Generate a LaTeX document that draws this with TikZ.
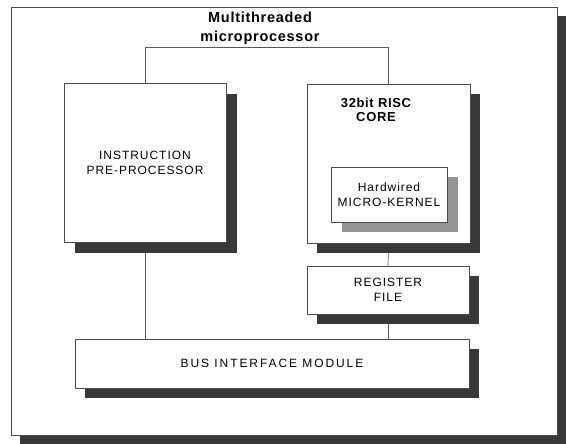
\documentclass[tikz,border=0pt]{standalone}
\usepackage{fontspec}
\setmainfont{Liberation Sans}
\newfontfamily\boxfont[LetterSpace=8]{Liberation Sans}
\newfontfamily\widefont[LetterSpace=16]{Liberation Sans}
\newfontfamily\headfont[LetterSpace=5]{Liberation Sans}
\usetikzlibrary{positioning,shadows}
\pgfdeclarelayer{back}
\pgfdeclarelayer{wires}
\pgfsetlayers{back,wires,main}

\begin{document}
\begin{tikzpicture}[x=1pt,y=-1pt,
  unit/.style={draw=black!70,line width=0.7pt,fill=white,inner sep=0pt,
    align=center,font=\fontsize{12}{15}\selectfont\boxfont},
  shade/.style={drop shadow={shadow xshift=#1,shadow yshift=-#1,
    fill=black!78,opacity=1}},
  lightshade/.style={drop shadow={shadow xshift=11pt,shadow yshift=-10pt,
    fill=black!42,opacity=1}},
  wire/.style={draw=black!65,line width=0.7pt}]
  \useasboundingbox (0,0) rectangle (566,444);
  % outer frame
  \begin{pgfonlayer}{back}
    \node[unit,shade=9pt,minimum width=546pt,minimum height=428pt] (chip) at (284,221) {};
  \end{pgfonlayer}
  \node[font=\fontsize{14.5}{19}\selectfont\headfont\bfseries,align=center] (title) at (260,28)
    {Multithreaded\\microprocessor};
  % blocks
  \node[unit,shade=11pt,minimum width=162pt,minimum height=159pt] (instr) at (145,162.5)
    {INSTRUCTION\\PRE-PROCESSOR};
  \node[unit,shade=10pt,minimum width=163pt,minimum height=159pt] (core) at (388.5,163.5) {};
  \node[font=\fontsize{13}{14}\selectfont\headfont\bfseries,align=center] (coretext) at (376,110)
    {32bit RISC\\CORE};
  \node[unit,lightshade,minimum width=116pt,minimum height=55pt] (kernel) at (389,194.5)
    {Hardwired\\MICRO-KERNEL};
  \node[unit,shade=10pt,minimum width=162pt,minimum height=48pt] (reg) at (388,290)
    {REGISTER\\FILE};
  \node[unit,shade=10pt,minimum width=394pt,minimum height=49pt,
    font=\fontsize{12}{15}\selectfont\widefont] (bim) at (272,363.5)
    {BUS INTERFACE MODULE};
  % connections
  \begin{pgfonlayer}{wires}
    \coordinate (bar) at (260,47);
    \draw[wire] (instr.north) -- (instr.north |- bar) -| (core.north);
    \draw[wire] (instr.south) -- (instr.south |- bim.north);
    \draw[wire] (core.south) -- (reg.north);
    \draw[wire] (reg.south) -- (reg.south |- bim.north);
  \end{pgfonlayer}
\end{tikzpicture}
\end{document}
